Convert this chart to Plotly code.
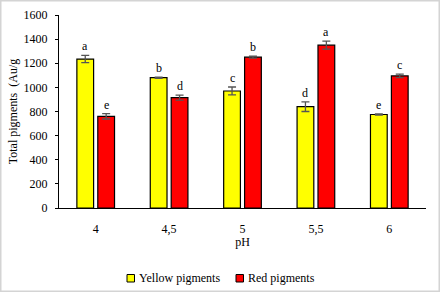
import plotly.graph_objects as go

categories = ["4", "4,5", "5", "5,5", "6"]
yellow = [1235, 1080, 970, 840, 775]
yellow_err = [30, 5, 33, 40, 5]
yellow_letters = ["a", "b", "c", "d", "e"]
red = [760, 915, 1250, 1350, 1095]
red_err = [22, 20, 8, 33, 15]
red_letters = ["e", "d", "b", "a", "c"]
series_names = ["Yellow pigments", "Red pigments"]
series_colors = ["#FFFF00", "#FF0000"]

FONT = "Liberation Serif"

fig = go.Figure()
fig.add_trace(go.Bar(
    x=categories, y=yellow, name=series_names[0],
    marker=dict(color=series_colors[0], line=dict(color="black", width=1.2)),
    error_y=dict(type="data", array=yellow_err, color="#555555", thickness=1.3, width=4),
))
fig.add_trace(go.Bar(
    x=categories, y=red, name=series_names[1],
    marker=dict(color=series_colors[1], line=dict(color="black", width=1.2)),
    error_y=dict(type="data", array=red_err, color="#555555", thickness=1.3, width=4),
))

# letter annotations above error bars
for i, c in enumerate(categories):
    fig.add_annotation(x=i, y=yellow[i] + yellow_err[i], text=yellow_letters[i],
                       xshift=-10.5, yshift=9, showarrow=False,
                       font=dict(family=FONT, size=12, color="black"))
    fig.add_annotation(x=i, y=red[i] + red_err[i], text=red_letters[i],
                       xshift=10.5, yshift=9, showarrow=False,
                       font=dict(family=FONT, size=12, color="black"))

W, H = 441, 293
ml, mr, mt, mb = 59, 15, 15, 85
pw, ph = W - ml - mr, H - mt - mb


def px(x):
    return (x - ml) / pw


def py(y):
    return (H - mb - y) / ph


# light gray frame around figure
fig.add_shape(type="rect", xref="paper", yref="paper",
              x0=px(0.75), x1=px(W - 1.75), y0=py(H - 1.75), y1=py(0.75),
              line=dict(color="#d4d4d4", width=1.5), layer="below")

# legend (swatch + label)
legend_x = [127, 236]
for name, col, lx in zip(series_names, series_colors, legend_x):
    fig.add_shape(type="rect", xref="paper", yref="paper",
                  x0=px(lx), x1=px(lx + 7.5), y0=py(282), y1=py(274.5),
                  fillcolor=col, line=dict(color="black", width=1))
    fig.add_annotation(xref="paper", yref="paper", x=px(lx + 9.5), y=py(278),
                       xanchor="left", yanchor="middle", text=name, showarrow=False,
                       font=dict(family=FONT, size=12, color="black"))

fig.update_layout(
    width=W, height=H,
    margin=dict(l=ml, r=mr, t=mt, b=mb, autoexpand=False),
    paper_bgcolor="white", plot_bgcolor="white",
    barmode="group", bargap=0.43, bargroupgap=0.2,
    font=dict(family=FONT, size=12, color="black"),
    showlegend=False,
    xaxis=dict(showline=True, linecolor="black", linewidth=1.2, ticks="",
               ticklabelstandoff=9,
               title=dict(text="pH", standoff=3, font=dict(family=FONT, size=12)),
               tickfont=dict(family=FONT, size=12)),
    yaxis=dict(range=[0, 1600], dtick=200, showline=True, linecolor="black", linewidth=1.2,
               ticks="outside", ticklen=3, tickcolor="black", showgrid=False, zeroline=False,
               ticklabelstandoff=5,
               title=dict(text="Total pigments  (Au/g", standoff=3, font=dict(family=FONT, size=12)),
               tickfont=dict(family=FONT, size=12)),
)

fig.write_html("out.html", config={"displayModeBar": False},
               post_script="document.body.style.margin='0';document.body.style.overflow='hidden';")
